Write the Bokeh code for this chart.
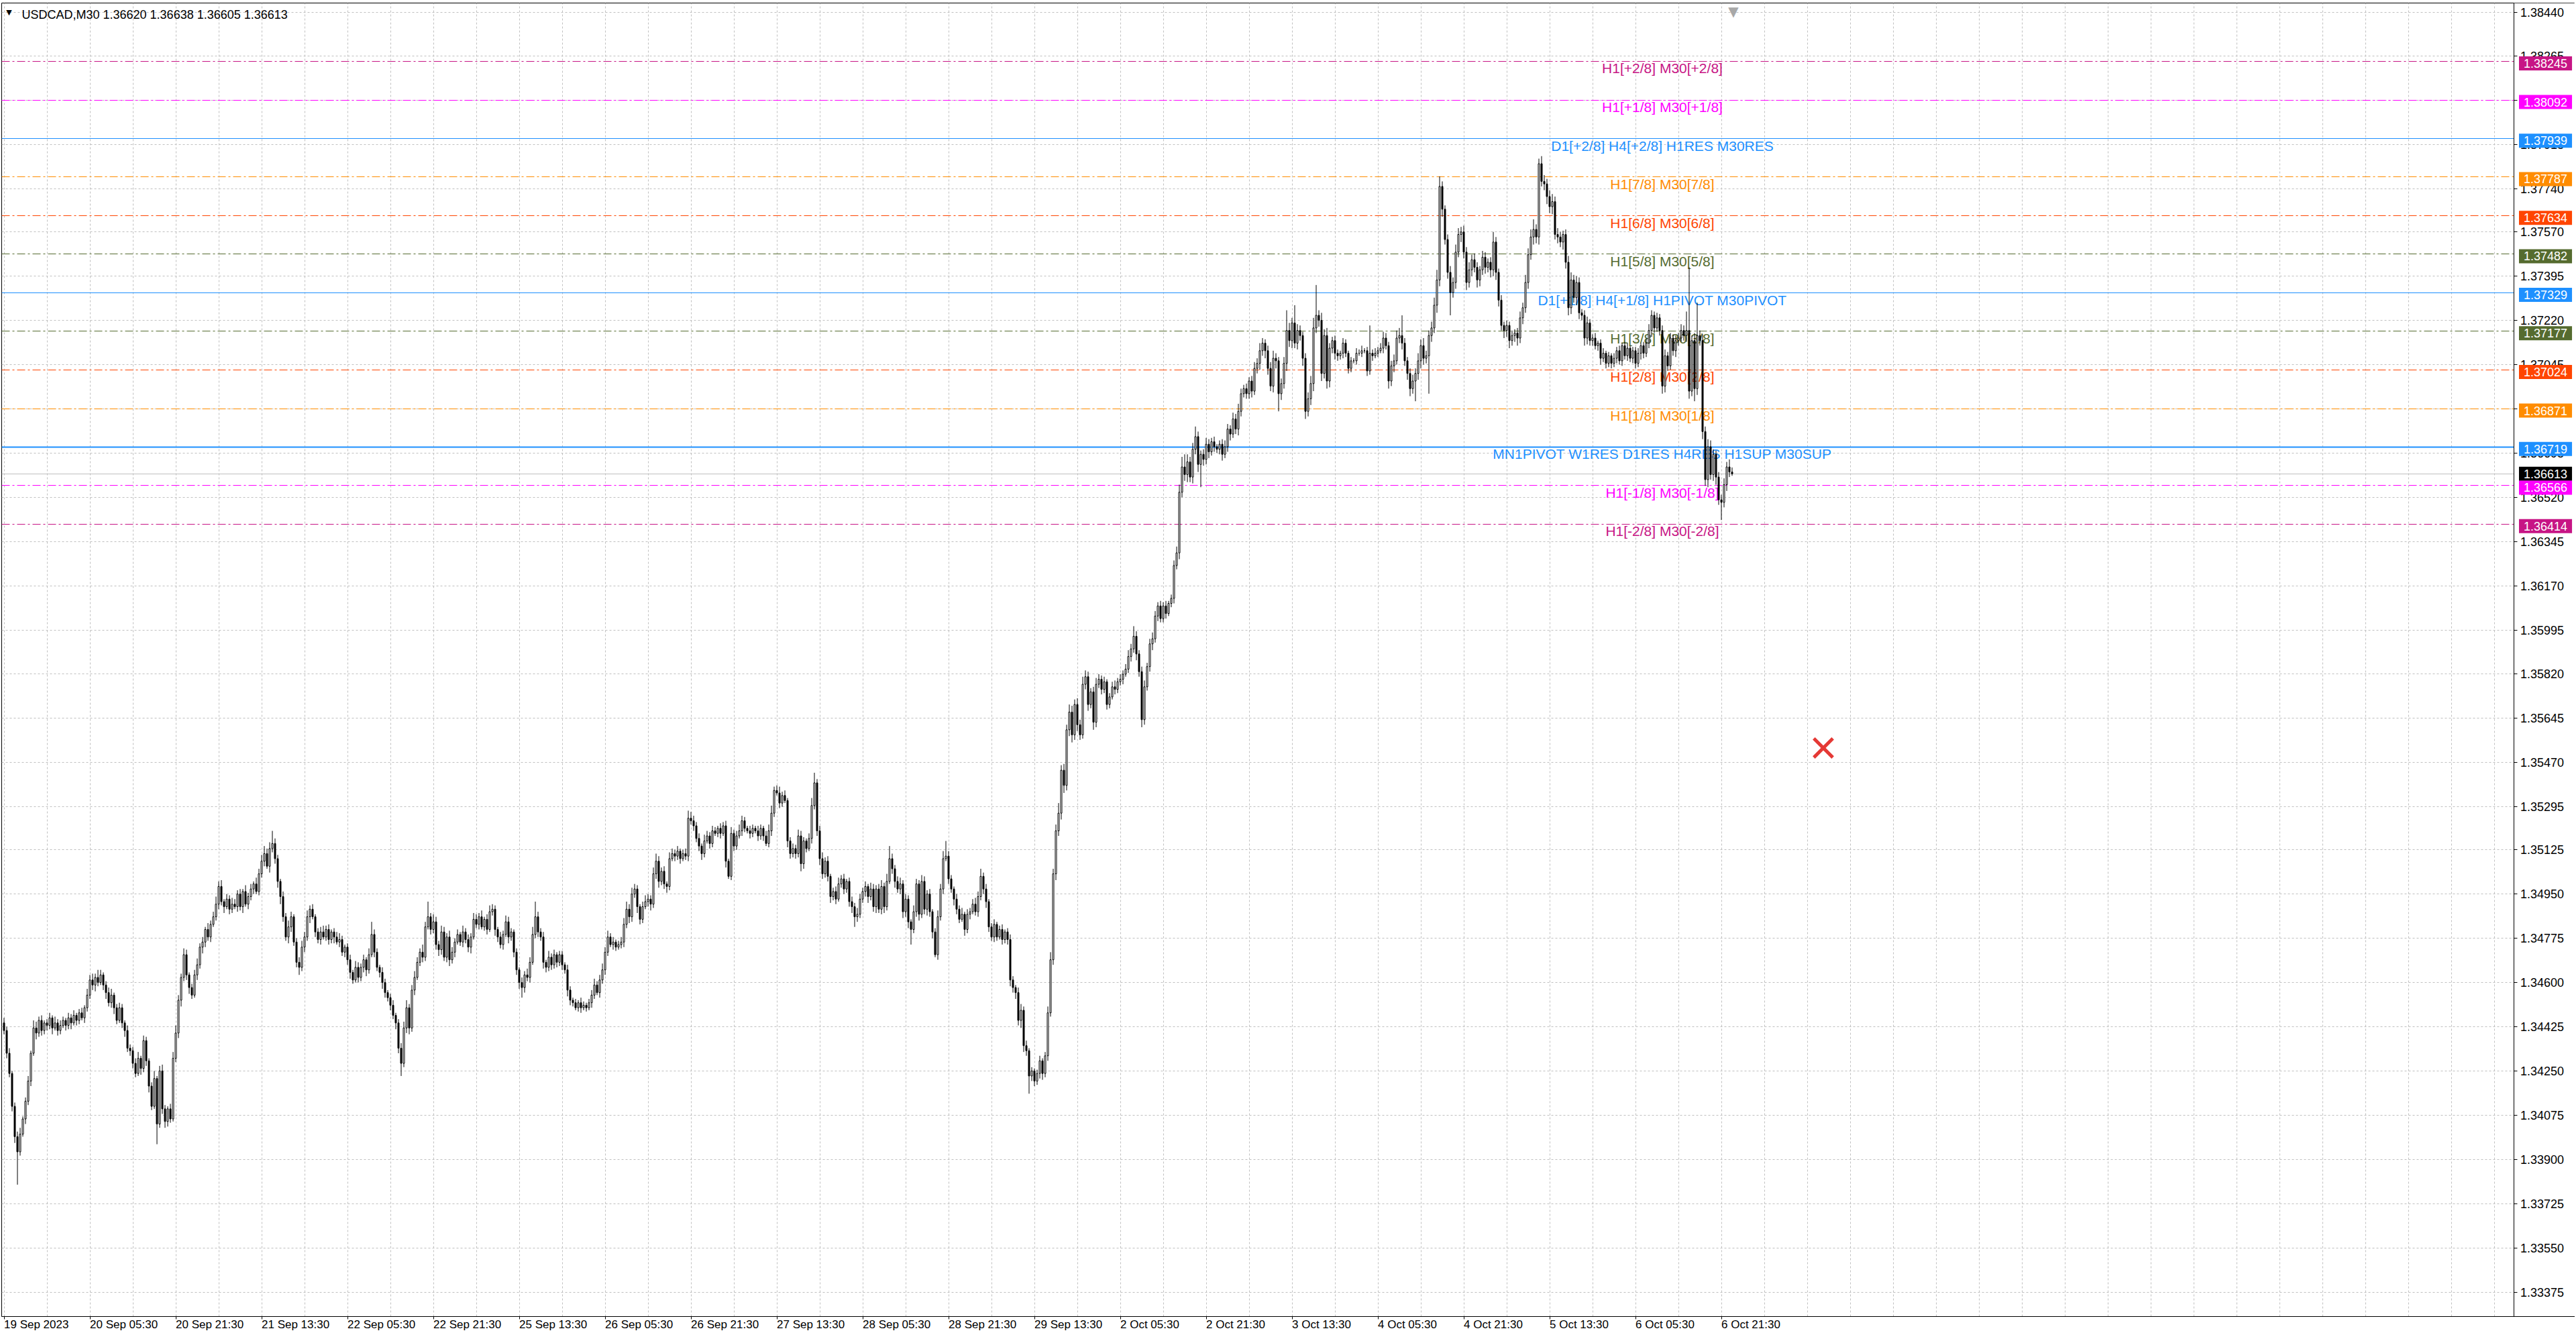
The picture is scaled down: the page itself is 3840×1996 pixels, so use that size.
import numpy as np
from bokeh.plotting import figure
from bokeh.models import FixedTicker, PrintfTickFormatter, Label, ColumnDataSource, Range1d, BoxAnnotation
from bokeh.core.properties import value
from bokeh.embed import file_html
from bokeh.resources import INLINE

# ---------------- data ----------------
SYMBOL = "USDCAD,M30"
LAST_OHLC = [1.36620, 1.36638, 1.36605, 1.36613]
BID = 1.36613
FIRST_OPEN = 1.3444

# M30 closes, one row = 16 bars (8 hours)
CLOSE = [
    1.3441, 1.3432, 1.3424, 1.3411, 1.3399, 1.3393, 1.3400, 1.3406, 1.3413, 1.3421, 1.3432, 1.3442, 1.3440, 1.3445, 1.3441, 1.3444,
    1.3443, 1.3446, 1.3442, 1.3444, 1.3441, 1.3443, 1.3445, 1.3443, 1.3446, 1.3444, 1.3447, 1.3445, 1.3448, 1.3446, 1.3450, 1.3455,
    1.3461, 1.3459, 1.3462, 1.3460, 1.3463, 1.3459, 1.3456, 1.3452, 1.3455, 1.3450, 1.3445, 1.3450, 1.3444, 1.3441, 1.3434, 1.3433,
    1.3428, 1.3424, 1.3430, 1.3426, 1.3437, 1.3429, 1.3419, 1.3411, 1.3422, 1.3404, 1.3425, 1.3410, 1.3405, 1.3410, 1.3406, 1.3430,
    1.3440, 1.3453, 1.3462, 1.3471, 1.3463, 1.3458, 1.3455, 1.3463, 1.3467, 1.3474, 1.3476, 1.3481, 1.3478, 1.3483, 1.3486, 1.3491,
    1.3498, 1.3492, 1.3490, 1.3493, 1.3489, 1.3491, 1.3490, 1.3495, 1.3490, 1.3496, 1.3491, 1.3494, 1.3497, 1.3499, 1.3496, 1.3503,
    1.3508, 1.3511, 1.3506, 1.3513, 1.3515, 1.3509, 1.3500, 1.3494, 1.3486, 1.3478, 1.3482, 1.3486, 1.3476, 1.3468, 1.3466, 1.3474,
    1.3478, 1.3486, 1.3489, 1.3486, 1.3480, 1.3477, 1.3480, 1.3478, 1.3481, 1.3477, 1.3480, 1.3478, 1.3476, 1.3477, 1.3472, 1.3474,
    1.3469, 1.3464, 1.3461, 1.3466, 1.3462, 1.3466, 1.3469, 1.3465, 1.3471, 1.3479, 1.3472, 1.3466, 1.3464, 1.3460, 1.3456, 1.3454,
    1.3451, 1.3447, 1.3444, 1.3434, 1.3428, 1.3442, 1.3450, 1.3442, 1.3457, 1.3462, 1.3468, 1.3472, 1.3470, 1.3482, 1.3486, 1.3481,
    1.3484, 1.3475, 1.3473, 1.3480, 1.3470, 1.3478, 1.3469, 1.3472, 1.3476, 1.3479, 1.3476, 1.3480, 1.3477, 1.3474, 1.3478, 1.3485,
    1.3483, 1.3486, 1.3482, 1.3485, 1.3481, 1.3488, 1.3489, 1.3481, 1.3478, 1.3475, 1.3479, 1.3484, 1.3478, 1.3480, 1.3472, 1.3465,
    1.3460, 1.3458, 1.3463, 1.3462, 1.3468, 1.3479, 1.3486, 1.3480, 1.3478, 1.3468, 1.3466, 1.3470, 1.3467, 1.3471, 1.3468, 1.3471,
    1.3467, 1.3465, 1.3457, 1.3453, 1.3452, 1.3450, 1.3452, 1.3450, 1.3451, 1.3450, 1.3452, 1.3455, 1.3459, 1.3456, 1.3461, 1.3465,
    1.3472, 1.3478, 1.3475, 1.3476, 1.3474, 1.3475, 1.3476, 1.3483, 1.3489, 1.3486, 1.3495, 1.3497, 1.3490, 1.3485, 1.3490, 1.3492,
    1.3493, 1.3491, 1.3503, 1.3508, 1.3500, 1.3504, 1.3499, 1.3498, 1.3509, 1.3511, 1.3510, 1.3512, 1.3509, 1.3511, 1.3510, 1.3525,
    1.3524, 1.3522, 1.3517, 1.3514, 1.3511, 1.3516, 1.3518, 1.3515, 1.3520, 1.3519, 1.3521, 1.3519, 1.3522, 1.3508, 1.3502, 1.3519,
    1.3514, 1.3518, 1.3520, 1.3524, 1.3521, 1.3520, 1.3519, 1.3521, 1.3520, 1.3518, 1.3521, 1.3518, 1.3515, 1.3520, 1.3527, 1.3536,
    1.3535, 1.3531, 1.3534, 1.3532, 1.3516, 1.3511, 1.3513, 1.3511, 1.3518, 1.3507, 1.3516, 1.3513, 1.3517, 1.3530, 1.3539, 1.3520,
    1.3509, 1.3503, 1.3508, 1.3502, 1.3494, 1.3496, 1.3493, 1.3499, 1.3501, 1.3497, 1.3500, 1.3492, 1.3490, 1.3486, 1.3487, 1.3493,
    1.3496, 1.3498, 1.3494, 1.3497, 1.3490, 1.3497, 1.3489, 1.3498, 1.3490, 1.3500, 1.3509, 1.3505, 1.3500, 1.3497, 1.3499, 1.3488,
    1.3493, 1.3484, 1.3481, 1.3488, 1.3499, 1.3487, 1.3500, 1.3489, 1.3495, 1.3488, 1.3480, 1.3471, 1.3486, 1.3497, 1.3509, 1.3510,
    1.3501, 1.3497, 1.3493, 1.3489, 1.3485, 1.3487, 1.3481, 1.3487, 1.3488, 1.3491, 1.3488, 1.3494, 1.3502, 1.3497, 1.3492, 1.3482,
    1.3478, 1.3483, 1.3478, 1.3481, 1.3477, 1.3480, 1.3477, 1.3461, 1.3458, 1.3456, 1.3445, 1.3449, 1.3435, 1.3433, 1.3423, 1.3425,
    1.3421, 1.3424, 1.3429, 1.3424, 1.3431, 1.3448, 1.3469, 1.3503, 1.3520, 1.3527, 1.3544, 1.3538, 1.3560, 1.3567, 1.3558, 1.3570,
    1.3562, 1.3558, 1.3578, 1.3581, 1.3570, 1.3575, 1.3563, 1.3578, 1.3580, 1.3576, 1.3579, 1.3570, 1.3573, 1.3577, 1.3576, 1.3579,
    1.3580, 1.3582, 1.3584, 1.3589, 1.3592, 1.3597, 1.3590, 1.3583, 1.3564, 1.3577, 1.3585, 1.3594, 1.3596, 1.3605, 1.3609, 1.3604,
    1.3609, 1.3606, 1.3610, 1.3612, 1.3625, 1.3630, 1.3654, 1.3664, 1.3661, 1.3666, 1.3660, 1.3671, 1.3676, 1.3665, 1.3669, 1.3667,
    1.3673, 1.3670, 1.3674, 1.3672, 1.3671, 1.3673, 1.3669, 1.3672, 1.3679, 1.3677, 1.3683, 1.3679, 1.3686, 1.3693, 1.3695, 1.3693,
    1.3698, 1.3694, 1.3703, 1.3705, 1.3710, 1.3713, 1.3710, 1.3703, 1.3696, 1.3707, 1.3706, 1.3693, 1.3697, 1.3705, 1.3718, 1.3714,
    1.3721, 1.3713, 1.3718, 1.3716, 1.3707, 1.3686, 1.3691, 1.3697, 1.3719, 1.3724, 1.3722, 1.3701, 1.3716, 1.3698, 1.3711, 1.3714,
    1.3709, 1.3708, 1.3709, 1.3713, 1.3709, 1.3703, 1.3706, 1.3706, 1.3709, 1.3709, 1.3710, 1.3710, 1.3702, 1.3709, 1.3708, 1.3709,
    1.3710, 1.3711, 1.3715, 1.3712, 1.3698, 1.3704, 1.3706, 1.3715, 1.3716, 1.3713, 1.3706, 1.3701, 1.3695, 1.3698, 1.3701, 1.3706,
    1.3712, 1.3707, 1.3708, 1.3716, 1.3719, 1.3728, 1.3738, 1.3775, 1.3766, 1.3754, 1.3741, 1.3733, 1.3737, 1.3749, 1.3756, 1.3757,
    1.3749, 1.3737, 1.3742, 1.3746, 1.3743, 1.3738, 1.3742, 1.3747, 1.3743, 1.3745, 1.3742, 1.3753, 1.3741, 1.3730, 1.3720, 1.3718,
    1.3720, 1.3714, 1.3716, 1.3717, 1.3715, 1.3723, 1.3727, 1.3737, 1.3748, 1.3755, 1.3758, 1.3755, 1.3784, 1.3777, 1.3776, 1.3771,
    1.3767, 1.3769, 1.3756, 1.3755, 1.3753, 1.3756, 1.3745, 1.3727, 1.3738, 1.3731, 1.3737, 1.3725, 1.3724, 1.3715, 1.3721, 1.3714,
    1.3715, 1.3712, 1.3713, 1.3707, 1.3709, 1.3705, 1.3708, 1.3705, 1.3707, 1.3710, 1.3706, 1.3712, 1.3708, 1.3711, 1.3707, 1.3710,
    1.3705, 1.3709, 1.3712, 1.3709, 1.3713, 1.3718, 1.3724, 1.3719, 1.3723, 1.3718, 1.3696, 1.3708, 1.3704, 1.3715, 1.3710, 1.3714,
    1.3715, 1.3718, 1.3716, 1.3718, 1.3694, 1.3714, 1.3695, 1.3716, 1.3714, 1.3678, 1.3659, 1.3672, 1.3661, 1.3669, 1.3660, 1.3651,
    1.3650, 1.3657, 1.3664, 1.3662, 1.36613,
]

# wick lengths above / below the body, in points (0.00001)
UPPER_WICK = [
    20, 15, 20, 10, 15, 20, 25, 10, 15, 20, 10, 30, 25, 15, 20, 10,
    15, 20, 10, 25, 15, 20, 15, 10, 20, 15, 20, 10, 15, 20, 10, 25,
    20, 25, 15, 30, 20, 10, 15, 20, 25, 10, 15, 20, 15, 10, 20, 15,
    15, 20, 25, 10, 20, 15, 10, 15, 30, 10, 20, 25, 15, 10, 20, 25,
    30, 20, 15, 25, 20, 10, 15, 20, 25, 15, 20, 10, 25, 15, 20, 30,
    20, 25, 10, 20, 15, 25, 20, 15, 20, 10, 25, 15, 20, 10, 25, 20,
    25, 30, 20, 25, 50, 20, 15, 10, 20, 15, 25, 20, 10, 15, 20, 25,
    20, 25, 15, 20, 10, 15, 20, 25, 15, 20, 10, 15, 20, 25, 15, 10,
    15, 20, 10, 25, 20, 15, 20, 10, 25, 50, 20, 15, 10, 20, 15, 10,
    15, 20, 10, 15, 20, 25, 30, 15, 20, 25, 20, 15, 30, 20, 60, 15,
    30, 20, 15, 25, 20, 15, 25, 20, 15, 20, 10, 25, 15, 20, 15, 25,
    20, 15, 25, 10, 20, 25, 20, 15, 10, 20, 15, 25, 20, 15, 10, 15,
    10, 20, 15, 25, 20, 30, 60, 20, 15, 20, 10, 25, 15, 20, 10, 15,
    15, 10, 20, 15, 10, 15, 10, 20, 15, 10, 15, 20, 25, 15, 20, 25,
    20, 25, 15, 20, 10, 15, 20, 25, 30, 20, 25, 20, 15, 10, 20, 25,
    20, 15, 25, 30, 20, 15, 20, 10, 25, 20, 15, 20, 10, 15, 20, 30,
    25, 20, 15, 20, 10, 25, 20, 15, 20, 15, 10, 20, 15, 20, 10, 25,
    15, 20, 25, 20, 15, 10, 20, 15, 10, 20, 15, 10, 20, 25, 30, 15,
    20, 25, 15, 20, 10, 15, 20, 15, 25, 20, 15, 10, 20, 30, 40, 15,
    20, 25, 15, 20, 10, 15, 20, 25, 15, 20, 10, 15, 20, 15, 25, 20,
    15, 20, 10, 25, 20, 15, 20, 25, 15, 30, 50, 20, 15, 20, 25, 15,
    20, 15, 10, 25, 20, 15, 25, 20, 15, 20, 10, 15, 25, 20, 30, 60,
    20, 15, 10, 20, 15, 25, 10, 20, 15, 20, 25, 20, 30, 15, 20, 10,
    15, 20, 10, 15, 20, 10, 15, 20, 15, 10, 20, 25, 15, 20, 10, 15,
    10, 15, 20, 10, 15, 25, 30, 20, 25, 40, 20, 25, 20, 30, 25, 20,
    25, 20, 30, 25, 20, 15, 20, 25, 20, 15, 20, 10, 15, 20, 25, 15,
    20, 15, 20, 25, 20, 40, 20, 15, 20, 25, 15, 20, 25, 20, 15, 20,
    15, 20, 10, 15, 20, 25, 30, 40, 50, 30, 20, 25, 40, 20, 15, 20,
    25, 20, 15, 20, 10, 15, 20, 25, 20, 15, 25, 20, 30, 20, 15, 20,
    15, 20, 25, 20, 30, 20, 15, 20, 25, 30, 20, 15, 20, 25, 80, 30,
    20, 70, 25, 20, 15, 20, 25, 30, 40, 120, 20, 30, 25, 30, 20, 15,
    20, 15, 10, 20, 15, 10, 15, 10, 20, 15, 20, 10, 15, 110, 15, 20,
    15, 20, 25, 20, 15, 20, 25, 30, 30, 80, 20, 15, 20, 25, 20, 30,
    25, 30, 20, 20, 25, 30, 40, 40, 20, 15, 20, 25, 20, 30, 25, 20,
    25, 20, 30, 20, 25, 20, 15, 25, 20, 15, 20, 40, 20, 15, 20, 15,
    20, 15, 20, 15, 20, 25, 20, 30, 25, 30, 40, 20, 20, 30, 25, 20,
    25, 30, 20, 25, 20, 15, 20, 25, 30, 20, 25, 20, 15, 20, 25, 15,
    15, 20, 10, 15, 20, 10, 15, 10, 20, 15, 20, 10, 15, 20, 10, 15,
    15, 20, 10, 15, 20, 25, 20, 15, 20, 15, 20, 25, 15, 20, 15, 20,
    20, 25, 20, 75, 250, 20, 30, 130, 20, 25, 20, 30, 25, 20, 15, 20,
    20, 25, 20, 30, 18,
]
LOWER_WICK = [
    15, 20, 15, 20, 25, 130, 15, 10, 20, 15, 20, 10, 25, 15, 20, 15,
    20, 15, 25, 10, 20, 15, 10, 20, 15, 25, 10, 20, 15, 10, 20, 15,
    15, 20, 25, 15, 10, 20, 25, 15, 20, 25, 15, 10, 20, 25, 15, 20,
    20, 15, 10, 25, 15, 20, 25, 15, 10, 80, 15, 20, 25, 20, 15, 10,
    15, 20, 25, 15, 20, 25, 15, 10, 20, 15, 25, 20, 15, 20, 10, 15,
    20, 15, 25, 10, 20, 15, 10, 20, 15, 25, 10, 20, 15, 20, 10, 15,
    15, 20, 10, 25, 15, 20, 25, 30, 20, 15, 25, 20, 15, 20, 30, 15,
    20, 15, 25, 10, 20, 15, 20, 10, 15, 20, 15, 25, 10, 20, 15, 20,
    20, 25, 15, 10, 20, 15, 20, 25, 15, 10, 20, 15, 20, 25, 20, 15,
    20, 15, 25, 20, 50, 15, 20, 25, 15, 20, 10, 15, 20, 15, 10, 20,
    15, 20, 25, 20, 15, 20, 25, 15, 20, 10, 15, 20, 15, 20, 25, 10,
    15, 20, 10, 15, 20, 10, 15, 25, 20, 15, 20, 10, 25, 15, 20, 20,
    25, 40, 20, 15, 20, 10, 15, 20, 15, 25, 20, 15, 20, 15, 20, 15,
    20, 15, 25, 20, 15, 10, 15, 20, 10, 15, 10, 20, 15, 10, 20, 15,
    20, 15, 10, 20, 15, 10, 15, 20, 15, 25, 20, 15, 25, 20, 15, 10,
    20, 25, 15, 20, 25, 15, 20, 25, 15, 10, 20, 15, 20, 10, 15, 20,
    15, 20, 15, 20, 25, 15, 10, 20, 15, 10, 15, 20, 10, 25, 10, 15,
    20, 15, 10, 20, 15, 10, 20, 15, 10, 20, 15, 20, 10, 15, 20, 15,
    10, 20, 15, 10, 25, 20, 15, 20, 15, 30, 20, 15, 10, 20, 15, 20,
    25, 20, 15, 20, 25, 15, 20, 10, 15, 20, 15, 20, 25, 40, 20, 15,
    15, 20, 25, 15, 20, 25, 15, 20, 25, 15, 10, 20, 25, 15, 20, 25,
    20, 25, 60, 15, 20, 25, 15, 20, 25, 20, 25, 10, 20, 15, 20, 10,
    20, 15, 25, 20, 15, 10, 25, 15, 20, 10, 15, 20, 15, 20, 25, 20,
    15, 20, 15, 10, 20, 15, 20, 25, 20, 25, 20, 30, 25, 20, 70, 20,
    20, 15, 20, 25, 15, 20, 15, 20, 25, 20, 25, 30, 20, 25, 30, 20,
    25, 20, 15, 20, 25, 15, 30, 20, 15, 20, 15, 20, 15, 10, 20, 15,
    15, 20, 10, 15, 20, 15, 25, 20, 30, 20, 15, 20, 25, 15, 20, 15,
    15, 20, 10, 15, 20, 15, 25, 20, 25, 30, 20, 25, 20, 30, 90, 25,
    20, 25, 15, 20, 15, 20, 25, 15, 20, 25, 15, 20, 25, 20, 15, 20,
    20, 25, 15, 20, 25, 20, 30, 25, 20, 25, 30, 70, 25, 20, 30, 25,
    30, 20, 25, 20, 30, 30, 20, 25, 30, 20, 25, 30, 20, 30, 25, 20,
    25, 20, 15, 20, 15, 20, 15, 10, 15, 10, 15, 10, 20, 15, 20, 10,
    15, 10, 20, 15, 30, 20, 25, 15, 20, 25, 20, 25, 30, 20, 80, 25,
    30, 25, 20, 150, 25, 20, 30, 25, 30, 20, 25, 90, 20, 25, 20, 30,
    25, 30, 20, 25, 20, 30, 25, 20, 25, 20, 30, 25, 30, 25, 20, 30,
    25, 30, 20, 25, 30, 20, 25, 20, 25, 20, 30, 25, 30, 20, 25, 30,
    25, 30, 20, 25, 20, 30, 25, 30, 25, 20, 30, 25, 20, 30, 25, 20,
    20, 15, 20, 25, 15, 20, 15, 20, 15, 20, 15, 20, 15, 20, 15, 20,
    20, 15, 25, 20, 15, 20, 25, 20, 15, 20, 30, 25, 20, 15, 20, 25,
    20, 15, 20, 25, 30, 20, 50, 25, 20, 30, 25, 30, 20, 25, 30, 20,
    70, 20, 25, 20, 8,
]

TIME_LABELS = ["19 Sep 2023", "20 Sep 05:30", "20 Sep 21:30", "21 Sep 13:30", "22 Sep 05:30",
               "22 Sep 21:30", "25 Sep 13:30", "26 Sep 05:30", "26 Sep 21:30", "27 Sep 13:30",
               "28 Sep 05:30", "28 Sep 21:30", "29 Sep 13:30", "2 Oct 05:30", "2 Oct 21:30",
               "3 Oct 13:30", "4 Oct 05:30", "4 Oct 21:30", "5 Oct 13:30", "6 Oct 05:30", "6 Oct 21:30"]
BARS_PER_LABEL = 32
BARS_PER_GRID = 16

PRICE_TICKS = [1.38440, 1.38265, 1.38090, 1.37915, 1.37740, 1.37570, 1.37395, 1.37220, 1.37045,
               1.36870, 1.36695, 1.36520, 1.36345, 1.36170, 1.35995, 1.35820, 1.35645, 1.35470,
               1.35295, 1.35125, 1.34950, 1.34775, 1.34600, 1.34425, 1.34250, 1.34075, 1.33900,
               1.33725, 1.33550, 1.33375]

LEVEL_PRICES = [1.38245, 1.38092, 1.37939, 1.37787, 1.37634, 1.37482, 1.37329,
                1.37177, 1.37024, 1.36871, 1.36719, 1.36566, 1.36414]
LEVEL_TEXTS = ["H1[+2/8] M30[+2/8]", "H1[+1/8] M30[+1/8]", "D1[+2/8] H4[+2/8] H1RES M30RES",
               "H1[7/8] M30[7/8]", "H1[6/8] M30[6/8]", "H1[5/8] M30[5/8]",
               "D1[+1/8] H4[+1/8] H1PIVOT M30PIVOT", "H1[3/8] M30[3/8]", "H1[2/8] M30[2/8]",
               "H1[1/8] M30[1/8]", "MN1PIVOT W1RES D1RES H4RES H1SUP M30SUP",
               "H1[-1/8] M30[-1/8]", "H1[-2/8] M30[-2/8]"]
LEVEL_LABEL_BAR = 618

CROSS_BAR = [678]
CROSS_PRICE = [1.35528]

# ---------------- styles / layout ----------------
VIOLET, MAGENTA, BLUE = "#C71585", "#FF00FF", "#1E90FF"
ORANGE, RED, OLIVE = "#FF8C00", "#FF4500", "#556B2F"
level_colors = [VIOLET, MAGENTA, BLUE, ORANGE, RED, OLIVE, BLUE, OLIVE, RED, ORANGE, BLUE, MAGENTA, VIOLET]
level_solid = [False, False, True, False, False, False, True, False, False, False, True, False, False]
level_width = [1, 1, 1, 1, 1, 1, 1, 1, 1, 1, 2, 1, 1]
FONT = "Liberation Sans"

PX_PER_BAR = 4
PX_PER_PRICE = 37671.0
FRAME_LEFT, FRAME_TOP = 2, 4
FRAME_W, FRAME_H = 3836, 1958
AXIS_PX = 3746.5                     # screen x of the price scale line
X0 = -0.875
X1 = X0 + FRAME_W / PX_PER_BAR
X_AXIS = X0 + (AXIS_PX - FRAME_LEFT) / PX_PER_BAR
Y1 = 1.38440 + (17.5 - FRAME_TOP) / PX_PER_PRICE
Y0 = Y1 - FRAME_H / PX_PER_PRICE

# ---------------- build ----------------
n = len(CLOSE)
close = np.array(CLOSE)
opn = np.concatenate([[FIRST_OPEN], close[:-1]])
opn[-1] = LAST_OHLC[0]
body_top = np.maximum(opn, close)
body_bot = np.minimum(opn, close)
high = body_top + np.array(UPPER_WICK) * 1e-5
low = body_bot - np.array(LOWER_WICK) * 1e-5
bars = np.arange(n)

src = ColumnDataSource(dict(
    x=bars, h=high, l=low, top=body_top, bot=body_bot,
    fill=np.where(close >= opn, "white", "black"),
))

p = figure(frame_width=FRAME_W, frame_height=FRAME_H, output_backend="svg", toolbar_location=None,
           x_range=Range1d(X0, X1), y_range=Range1d(Y0, Y1), y_axis_location="right",
           min_border_left=FRAME_LEFT, min_border_top=FRAME_TOP, min_border_right=0,
           min_border_bottom=26, title=None)
p.background_fill_color = "white"
p.border_fill_color = "white"
p.outline_line_color = "black"
p.outline_line_width = 1

# time axis
xa = p.xaxis[0]
xa.ticker = FixedTicker(ticks=list(range(0, n, BARS_PER_LABEL)))
xa.major_label_overrides = {i * BARS_PER_LABEL: t for i, t in enumerate(TIME_LABELS)}
xa.major_label_orientation = -1e-6      # left-anchored labels, as on the terminal
xa.major_label_text_font = FONT
xa.major_label_text_font_size = "17px"
xa.major_label_text_color = "black"
xa.major_tick_out = 4
xa.major_tick_in = 0
xa.minor_tick_out = 0
xa.minor_tick_in = 0
xa.major_label_standoff = 8
xa.axis_line_color = "black"
xa.major_tick_line_color = "black"

# price axis, drawn at the right edge of the chart area
ya = p.yaxis[0]
ya.fixed_location = X_AXIS
ya.ticker = FixedTicker(ticks=PRICE_TICKS)
ya.formatter = PrintfTickFormatter(format="%.5f")
ya.major_label_text_font = FONT
ya.major_label_text_font_size = "18px"
ya.major_label_text_color = "black"
ya.major_tick_out = 5
ya.major_tick_in = 0
ya.minor_tick_out = 0
ya.minor_tick_in = 0
ya.major_label_standoff = 5
ya.axis_line_color = "black"
ya.major_tick_line_color = "black"

p.xgrid.ticker = FixedTicker(ticks=list(range(0, int(X1) + 1, BARS_PER_GRID)))
for g in (p.xgrid, p.ygrid):
    g.grid_line_color = "#C0C0C0"
    g.grid_line_dash = "3 3"
    g.grid_line_width = 1

# level lines (behind candles)
dd = [i for i in range(len(LEVEL_PRICES)) if not level_solid[i]]
ss = [i for i in range(len(LEVEL_PRICES)) if level_solid[i]]
p.hspan(y=[LEVEL_PRICES[i] for i in dd], line_color=[level_colors[i] for i in dd],
        line_width=1, line_dash="12 4 3 4")
p.hspan(y=[LEVEL_PRICES[i] for i in ss], line_color=[level_colors[i] for i in ss],
        line_width=[level_width[i] for i in ss])
p.hspan(y=[BID], line_color="#C0C0C0", line_width=1)

# level texts
p.text(x=[LEVEL_LABEL_BAR] * len(LEVEL_PRICES), y=LEVEL_PRICES, text=LEVEL_TEXTS,
       text_color=level_colors, text_align="center", text_baseline="top",
       text_font=value(FONT), text_font_size="21px", y_offset=-1)

# candles
p.segment(x0="x", y0="h", x1="x", y1="l", source=src, line_color="black", line_width=1)
p.vbar(x="x", width=0.5, top="top", bottom="bot", fill_color="fill",
       line_color="black", line_width=1, source=src)

# red cross object
p.scatter(x=CROSS_BAR, y=CROSS_PRICE, marker="x", size=40, line_color="#E53935", line_width=5)

# blank scale area right of the price axis
p.add_layout(BoxAnnotation(left=X_AXIS, fill_color="white", fill_alpha=1.0,
                           line_alpha=0, level="glyph"))

# title
title = SYMBOL + "  " + " ".join(f"{v:.5f}" for v in LAST_OHLC)
p.add_layout(Label(x=X0, y=Y1, x_offset=30, y_offset=-7, text=title, text_font=FONT,
                   text_font_size="18px", text_color="black", text_baseline="top"))
p.add_layout(Label(x=X0, y=Y1, x_offset=11, y_offset=-14, text="\u25BC", text_font="DejaVu Sans",
                   text_font_size="11px", text_color="black", text_baseline="middle",
                   text_align="center"))
# chart shift marker
p.add_layout(Label(x=n - 0.5, y=Y1, y_offset=0, text="\u25BC", text_font="DejaVu Sans",
                   text_font_size="20px", text_color="#A8A8A8", text_baseline="top",
                   text_align="center"))

# price tags on the scale
p.add_layout(Label(x=X_AXIS, y=BID, x_offset=8, y_offset=0, text=f"{BID:.5f}", text_color="white",
                   text_font=FONT, text_font_size="18px", text_baseline="middle",
                   background_fill_color="black", padding=(7, 4)))
for price, col in zip(LEVEL_PRICES, level_colors):
    p.add_layout(Label(x=X_AXIS, y=price, x_offset=8, y_offset=-3, text=f"{price:.5f}",
                       text_color="white", text_font=FONT, text_font_size="18px",
                       text_baseline="middle", background_fill_color=col, padding=(7, 4)))

open("out.html", "w").write(file_html(p, INLINE))
